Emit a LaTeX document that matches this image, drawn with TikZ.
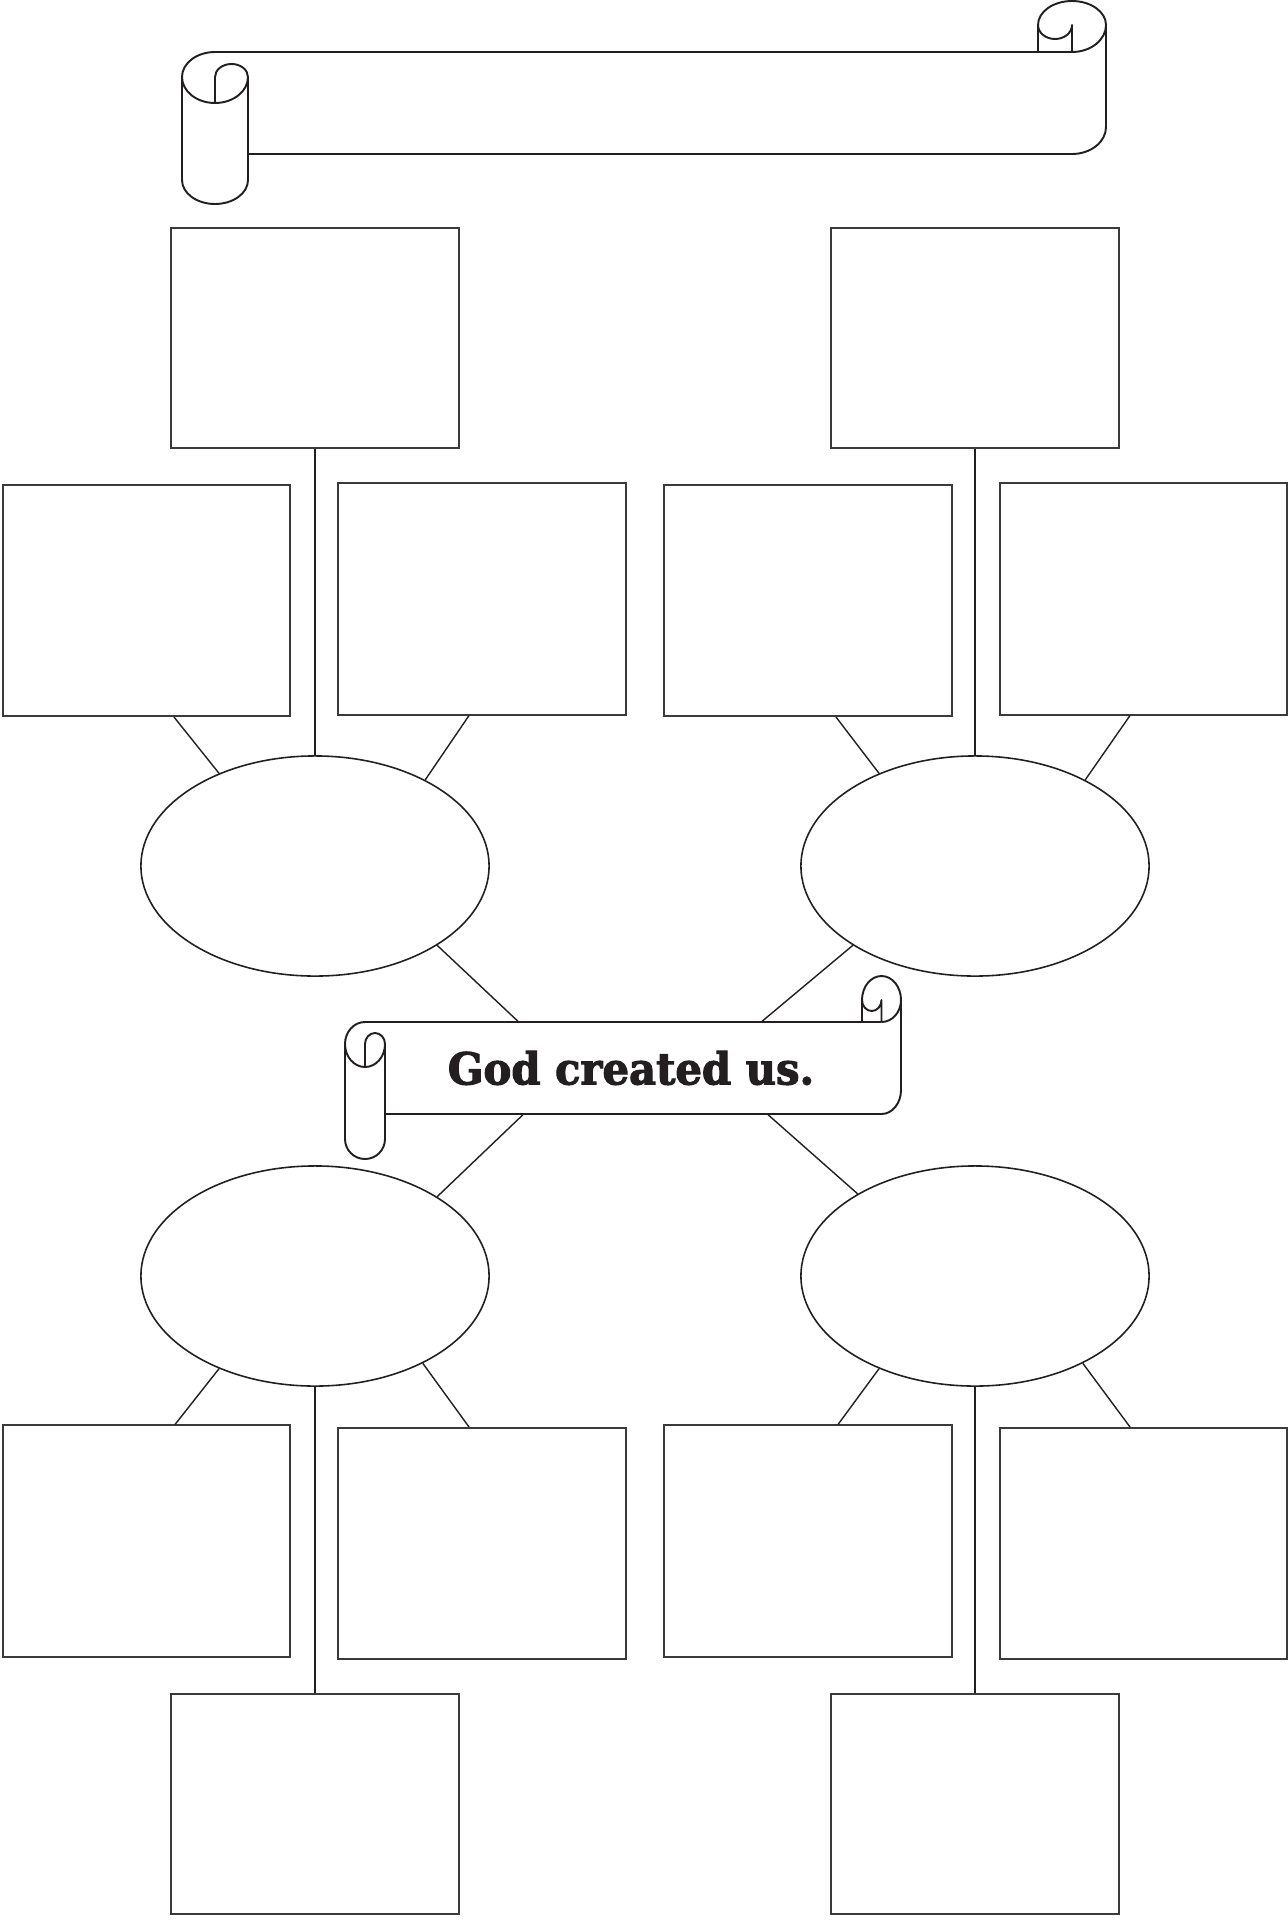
\documentclass[tikz,border=0pt]{standalone}
\usepackage{fontspec}
\usepackage{tikz}
\usetikzlibrary{positioning,shapes.geometric}
\definecolor{ink}{HTML}{231F20}
\definecolor{rule}{HTML}{3A3A3A}
\newfontfamily\mottofont{DejaVu Serif}[FakeStretch=0.95,FakeBold=2.5]

\begin{document}
\begin{tikzpicture}[
  x=0.01cm, y=0.01cm,
  cell/.style={draw=rule,line width=0.55pt,minimum width=2.87cm,minimum height=2.31cm,inner sep=0pt},
  capbox/.style={cell,minimum width=2.87cm,minimum height=2.2cm},
  bubble/.style={ellipse,draw=ink,line width=0.45pt,minimum width=3.48cm,minimum height=2.2cm,inner sep=0pt},
  link/.style={draw=ink,line width=0.4pt},
  roll/.style={draw=ink,line width=0.55pt,line join=round},
  band/.style={inner sep=0pt,minimum width=5.16cm,minimum height=0.92cm},
  motto/.style={font=\mottofont\bfseries\fontsize{12.5}{14}\selectfont,text=ink,inner sep=0pt},
]
\useasboundingbox (0,0) rectangle (1288,-1921);

\draw[roll] (1072,-52) -- (215,-52) arc[start angle=90,end angle=180,x radius=33,y radius=25]
  -- (182,-180) arc[start angle=180,end angle=360,x radius=33,y radius=24] -- (248,-77);
\draw[roll] (182,-77) arc[start angle=180,end angle=360,x radius=33,y radius=26];
\draw[roll] (215,-103) -- (215,-77) arc[start angle=180,end angle=0,x radius=16.5,y radius=13];
\draw[roll] (248,-154) -- (1072,-154) arc[start angle=270,end angle=360,x radius=34,y radius=27]
  -- (1106,-25) arc[start angle=0,end angle=180,x radius=34,y radius=24] -- (1038,-52);
\draw[roll] (1106,-25) arc[start angle=0,end angle=-90,x radius=34,y radius=27];
\draw[roll] (1038,-25) arc[start angle=180,end angle=360,x radius=17,y radius=14] -- (1072,-52);

\draw[roll] (881.5,-1022) -- (365,-1022) arc[start angle=90,end angle=180,x radius=20,y radius=22]
  -- (345,-1139) arc[start angle=180,end angle=360,x radius=20,y radius=20] -- (385,-1044);
\draw[roll] (345,-1044) arc[start angle=180,end angle=360,x radius=20,y radius=23];
\draw[roll] (365,-1067) -- (365,-1044) arc[start angle=180,end angle=0,x radius=10,y radius=11];
\draw[roll] (385,-1114) -- (881.5,-1114) arc[start angle=270,end angle=360,x radius=19.5,y radius=24]
  -- (901,-1000) arc[start angle=0,end angle=180,x radius=19.5,y radius=24] -- (862,-1022);
\draw[roll] (901,-1000) arc[start angle=0,end angle=-90,x radius=19.5,y radius=22];
\draw[roll] (862,-1000) arc[start angle=180,end angle=360,x radius=9.75,y radius=11] -- (881.5,-1022);

\node[band] (topic) at (643,-1068) {};
\node[motto] (slogan) at ([xshift=-0.12cm]topic.center) {God created us.};

\node[bubble] (nw) at (315,-866) {};
\node[bubble] (ne) at (975,-866) {};
\node[bubble] (sw) at (315,-1276) {};
\node[bubble] (se) at (975,-1276) {};
\node[capbox,above=3.06cm of nw] (topl) {};
\node[capbox,above=3.06cm of ne] (topr) {};
\node[capbox,below=3.06cm of sw] (botl) {};
\node[capbox,below=3.06cm of se] (botr) {};
\node[cell] (nwa) at (146.5,-600.5) {};
\node[cell] (nwb) at (482,-599) {};
\node[cell] (nea) at (808,-600.5) {};
\node[cell] (neb) at (1143.5,-599) {};
\node[cell] (swa) at (146.5,-1541) {};
\node[cell] (swb) at (482,-1543.5) {};
\node[cell] (sea) at (808,-1541) {};
\node[cell] (seb) at (1143.5,-1543.5) {};

\draw[link] (topl) -- (nw);
\draw[link] (topr) -- (ne);
\draw[link] (sw) -- (botl);
\draw[link] (se) -- (botr);
\draw[link] ([xshift=0.275cm]nwa.south) -- (nw.136.5);
\draw[link] ([xshift=-0.13cm]nwb.south) -- (nw.38.5);
\draw[link] ([xshift=0.28cm]nea.south) -- (ne.136.5);
\draw[link] ([xshift=-0.135cm]neb.south) -- (ne.38.5);
\draw[link] (nw.-33) -- ([xshift=-1.25cm]topic.north);
\draw[link] (ne.213) -- ([xshift=1.19cm]topic.north);
\draw[link] ([xshift=-1.2cm]topic.south) -- (sw.33);
\draw[link] ([xshift=1.25cm]topic.south) -- (se.145);
\draw[link] (sw.224) -- ([xshift=0.285cm]swa.north);
\draw[link] (sw.321) -- ([xshift=-0.13cm]swb.north);
\draw[link] (se.224) -- ([xshift=0.3cm]sea.north);
\draw[link] (se.321) -- ([xshift=-0.135cm]seb.north);
\end{tikzpicture}
\end{document}
